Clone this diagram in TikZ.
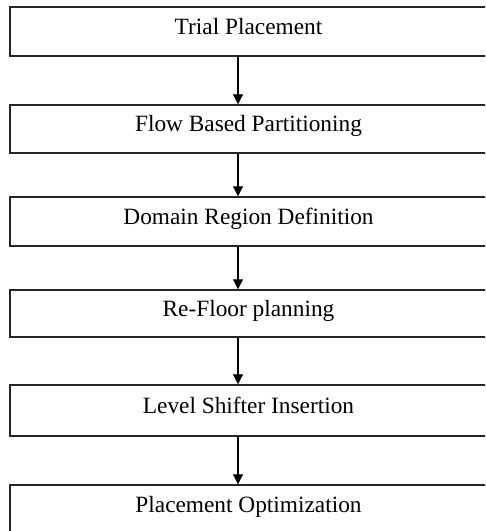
\documentclass[tikz,border=0pt]{standalone}
\usepackage{fontspec}
\setmainfont{Liberation Serif}
\usetikzlibrary{arrows.meta}
\begin{document}
\begin{tikzpicture}[x=0.75pt,y=-0.75pt,
  stage/.style={draw=black!85,line width=1.1pt,rectangle,inner sep=0pt,
    minimum width=357.75pt,text height=13pt,text depth=9pt,
    font=\fontsize{17.5}{21}\selectfont},
  flow/.style={-{Triangle[length=7.5pt,width=7.5pt]},line width=0.8pt,black}]
\useasboundingbox (0,0) rectangle (485,531);
\clip (0,0) rectangle (485,531);
% process stages, top to bottom
\node[stage,minimum height=36.75pt] (s1) at (248.5,31.5) {Trial Placement};
\node[stage,minimum height=36pt]    (s2) at (248.5,129) {Flow Based Partitioning};
\node[stage,minimum height=36.75pt] (s3) at (248.5,221.5) {Domain Region Definition};
\node[stage,minimum height=35.25pt] (s4) at (248.5,313.5) {Re-Floor planning};
\node[stage,minimum height=38.25pt] (s5) at (248.5,410.5) {Level Shifter Insertion};
\node[stage,minimum height=37.5pt] (s6) at (248.5,510) {Placement Optimization};
% connectors
\foreach \a/\b in {s1/s2,s2/s3,s3/s4,s4/s5,s5/s6}
  \draw[flow] (\a.south -| 238,0) -- (\b.north -| 238,0);
\end{tikzpicture}
\end{document}
